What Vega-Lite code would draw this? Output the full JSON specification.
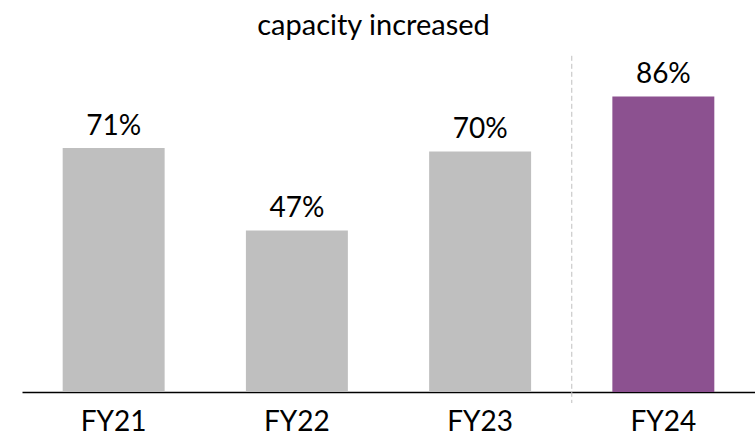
{
  "$schema": "https://vega.github.io/schema/vega-lite/v6.json",
  "width": 733,
  "height": 352,
  "autosize": {"type": "none"},
  "padding": {"left": 22, "top": 40, "right": 0, "bottom": 49},
  "background": "white",
  "title": {"text": "capacity increased", "font": "Lato", "fontSize": 29, "fontWeight": "normal", "color": "#000000", "anchor": "middle", "frame": "group", "offset": -1, "dx": -15},
  "config": {"view": {"stroke": null}},
  "datasets": {
    "bars": [
      {"year": "FY21", "value": 71, "label": "71%", "highlight": "no"},
      {"year": "FY22", "value": 47, "label": "47%", "highlight": "no"},
      {"year": "FY23", "value": 70, "label": "70%", "highlight": "no"},
      {"year": "FY24", "value": 86, "label": "86%", "highlight": "yes"}
    ],
    "divider": [{"year": "FY24", "top": 97.8, "bottom": -3.2}]
  },
  "layer": [
    {
      "data": {"name": "bars"},
      "mark": {"type": "bar"},
      "encoding": {
        "x": {"field": "year", "type": "nominal", "sort": null,
              "scale": {"paddingInner": 0.4435, "paddingOuter": 0.222},
              "axis": {"title": null, "ticks": false, "domainColor": "#000000", "domainWidth": 1.5, "labelFont": "Lato", "labelFontSize": 28, "labelColor": "#000000", "labelBaseline": "alphabetic", "labelPadding": 38, "labelAngle": 0}},
        "y": {"field": "value", "type": "quantitative", "scale": {"domain": [0, 102.4], "nice": false, "zero": true}, "axis": null},
        "color": {"field": "highlight", "type": "nominal", "scale": {"domain": ["no", "yes"], "range": ["#BFBFBF", "#8C5190"]}, "legend": null}
      }
    },
    {
      "data": {"name": "bars"},
      "mark": {"type": "text", "font": "Lato", "fontSize": 28, "color": "#000000", "baseline": "alphabetic", "dy": -13},
      "encoding": {
        "x": {"field": "year", "type": "nominal", "sort": null},
        "y": {"field": "value", "type": "quantitative"},
        "text": {"field": "label"}
      }
    },
    {
      "data": {"name": "divider"},
      "mark": {"type": "rule", "color": "#BFBFBF", "strokeWidth": 1, "strokeDash": [5, 3], "clip": false},
      "encoding": {
        "x": {"field": "year", "type": "nominal", "sort": null, "bandPosition": -0.398},
        "y": {"field": "top", "type": "quantitative"},
        "y2": {"field": "bottom"}
      }
    }
  ]
}
